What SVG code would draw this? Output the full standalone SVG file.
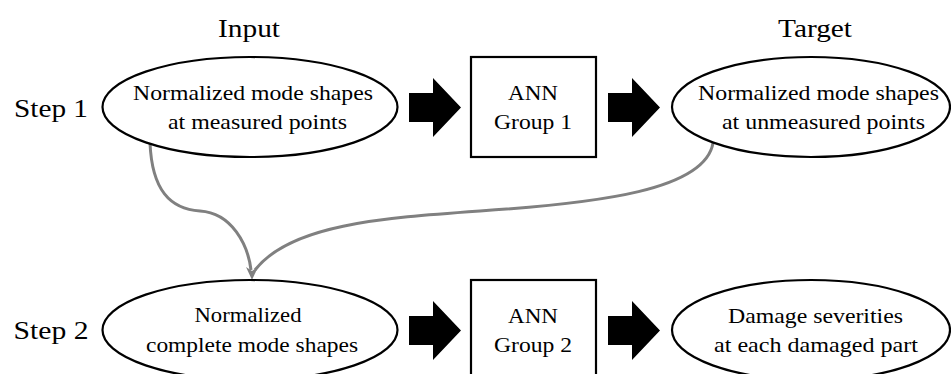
<svg xmlns="http://www.w3.org/2000/svg" width="951" height="374" viewBox="0 0 951 374">
<style>
text{font-family:"Liberation Serif","Times New Roman",serif;fill:#000;text-anchor:middle}
.hdr{font-size:26px}
.lbl{font-size:21px}
.node{fill:#fff;stroke:#000;stroke-width:2.2}
.arr{fill:#000}
.conn{fill:none;stroke:#808080;stroke-width:3}
</style>
<rect width="951" height="374" fill="#fff"/>
<g id="headers">
<text class="hdr" x="249" y="37" textLength="62" lengthAdjust="spacingAndGlyphs">Input</text>
<text class="hdr" x="815" y="37" textLength="74" lengthAdjust="spacingAndGlyphs">Target</text>
<text class="hdr" x="51" y="117" textLength="74" lengthAdjust="spacingAndGlyphs">Step 1</text>
<text class="hdr" x="51" y="339" textLength="75" lengthAdjust="spacingAndGlyphs">Step 2</text>
</g>
<g id="connectors">
<path class="conn" d="M150,143 C152,190 170,209 200,211 C232,213 248,245 251,270"/>
<path class="conn" d="M713,143 C705,190 600,203 480,211 C380,218 290,225 255,270"/>
<polygon fill="#808080" points="252,280 246,267 252,271 258,267"/>
<polygon class="arr" points="409,93 433,93 433,78 461,107.5 433,137 433,122 409,122"/>
<polygon class="arr" points="608,93 632,93 632,78 660,107.5 632,137 632,122 608,122"/>
<polygon class="arr" points="409,316 433,316 433,301 461,330.5 433,360 433,345 409,345"/>
<polygon class="arr" points="608,316 632,316 632,301 660,330.5 632,360 632,345 608,345"/>
</g>
<g id="n1">
<ellipse class="node" cx="250" cy="107" rx="147.5" ry="50"/>
<text class="lbl" x="253" y="100" textLength="240" lengthAdjust="spacingAndGlyphs">Normalized mode shapes</text>
<text class="lbl" x="257.5" y="129" textLength="179" lengthAdjust="spacingAndGlyphs">at measured points</text>
</g>
<g id="ann1">
<rect class="node" x="471" y="57" width="125" height="100"/>
<text class="lbl" x="533" y="100" textLength="50" lengthAdjust="spacingAndGlyphs">ANN</text>
<text class="lbl" x="533" y="129" textLength="78" lengthAdjust="spacingAndGlyphs">Group 1</text>
</g>
<g id="n2">
<ellipse class="node" cx="811" cy="107" rx="139" ry="50"/>
<text class="lbl" x="818.5" y="100" textLength="241" lengthAdjust="spacingAndGlyphs">Normalized mode shapes</text>
<text class="lbl" x="823.5" y="129" textLength="203" lengthAdjust="spacingAndGlyphs">at unmeasured points</text>
</g>
<g id="n3">
<ellipse class="node" cx="250" cy="330" rx="147.5" ry="50"/>
<text class="lbl" x="248" y="322" textLength="107" lengthAdjust="spacingAndGlyphs">Normalized</text>
<text class="lbl" x="252" y="352" textLength="212" lengthAdjust="spacingAndGlyphs">complete mode shapes</text>
</g>
<g id="ann2">
<rect class="node" x="471" y="280" width="125" height="100"/>
<text class="lbl" x="533" y="323" textLength="50" lengthAdjust="spacingAndGlyphs">ANN</text>
<text class="lbl" x="533" y="352" textLength="78" lengthAdjust="spacingAndGlyphs">Group 2</text>
</g>
<g id="n4">
<ellipse class="node" cx="811" cy="330" rx="139" ry="50"/>
<text class="lbl" x="815.5" y="323" textLength="175" lengthAdjust="spacingAndGlyphs">Damage severities</text>
<text class="lbl" x="816" y="352" textLength="204" lengthAdjust="spacingAndGlyphs">at each damaged part</text>
</g>
</svg>
